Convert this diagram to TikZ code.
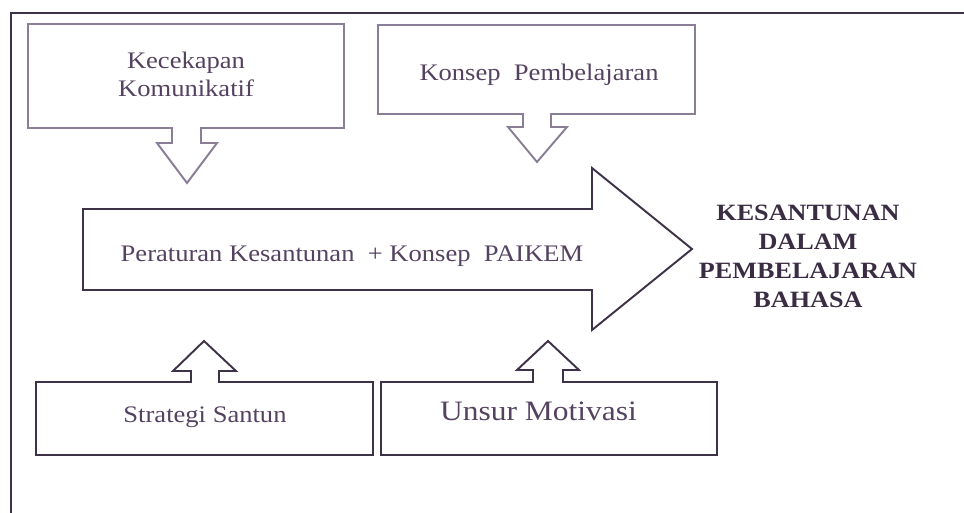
\documentclass[tikz,border=0pt]{standalone}
\usepackage{fontspec}
\setmainfont{Liberation Serif}[FakeStretch=1.12]
\definecolor{inkline}{RGB}{62,50,72}
\definecolor{paleline}{RGB}{138,126,150}
\definecolor{inktext}{RGB}{84,66,96}
\definecolor{titleink}{RGB}{58,44,66}
\tikzset{
  frameline/.style={draw=inkline, line width=1.3pt},
  boxtext/.style={anchor=base, inner sep=0pt, text=inktext,
    font=\fontsize{13.5}{16.5}\selectfont},
  titletext/.style={anchor=base, inner sep=0pt, text=titleink,
    font=\bfseries\fontsize{13.3}{16}\selectfont},
}
\begin{document}
\begin{tikzpicture}[x=0.02cm, y=-0.02cm]
  \useasboundingbox (0,0) rectangle (964,513);
  % Outer frame, cut off at the right and the bottom
  \draw [frameline] (11,513) -- (11,13) -- (964,13);

  % Boxes with a small block arrow on one edge
  % (far edge, edge with the stem, stem, head, tip)
  \foreach \xl/\yf/\xr/\yn/\stl/\str/\yh/\hl/\hr/\px/\py/\col in {
    28/24/344/128/172/201/143/157/217/187/183/paleline,
    378/25/695/114/523/551/127/508/567/537/162/paleline,
    36/455/373/382/191/219/371/173/236/204/341/inkline,
    381/455/717/382/533/563/370/517/579/548/341/inkline} {
    \draw [draw=\col, line width=1.1pt]
      (\xl,\yf) -- (\xr,\yf) -- (\xr,\yn) -- (\str,\yn) -- (\str,\yh)
      -- (\hr,\yh) -- (\px,\py) -- (\hl,\yh) -- (\stl,\yh) -- (\stl,\yn)
      -- (\xl,\yn) -- cycle;
  }

  % The big arrow in the middle
  \draw [draw=inkline, line width=1.1pt]
    (83,209) -- (592,209) -- (592,168) -- (692,249) -- (592,330)
    -- (592,290) -- (83,290) -- cycle;

  % Texts
  \node [boxtext, align=center] (kecekapan) at (186,97) {Kecekapan\\Komunikatif};
  \node [boxtext] (konsep) at (539,81) {Konsep~ Pembelajaran};
  \node [boxtext] (paikem) at (352,262) {Peraturan Kesantunan~ + Konsep~ PAIKEM};
  \node [boxtext] (strategi) at (205,422) {Strategi Santun};
  \node [boxtext, font=\fontsize{16}{19}\selectfont] (motivasi) at (538.5,420) {Unsur Motivasi};
  \foreach \word [count=\i] in {KESANTUNAN, DALAM, PEMBELAJARAN, BAHASA} {
    \node [titletext] (title\i) at (808,{221 + 28.7*(\i-1)}) {\word};
  }
\end{tikzpicture}
\end{document}
